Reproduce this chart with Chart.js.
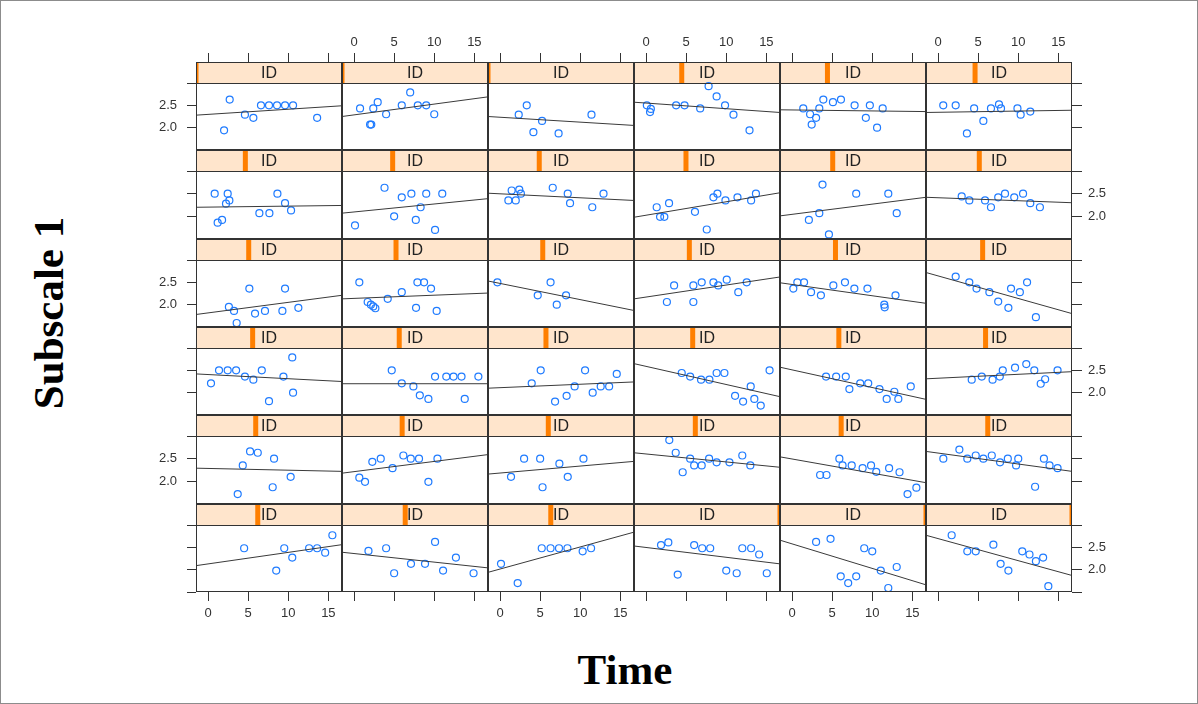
<!DOCTYPE html>
<html>
<head>
<meta charset="utf-8">
<script src="https://cdn.jsdelivr.net/npm/chart.js@4.4.1/dist/chart.umd.min.js"></script>
<style>
  html,body{margin:0;padding:0;background:#fff;}
  #page{position:relative;width:1198px;height:704px;overflow:hidden;background:#fff;}
  #frame{position:absolute;left:0;top:0;width:1196px;height:702px;border:1px solid #8c8c8c;pointer-events:none;z-index:5;}
  #page canvas{position:absolute;}
  .axtitle{position:absolute;font-family:"Liberation Serif","Times New Roman",serif;font-weight:bold;font-size:43px;color:#000;white-space:nowrap;}
  #ylab{left:48px;top:313px;transform:translate(-50%,-50%) rotate(-90deg);}
  #xlab{left:625px;top:669px;transform:translate(-50%,-50%);}
</style>
</head>
<body>
<div id="page">
  <div id="frame"></div>
  <div id="ylab" class="axtitle">Subscale 1</div>
  <div id="xlab" class="axtitle">Time</div>
</div>
<script>
// ---------------- data (Time, Subscale 1) per panel, rows top to bottom ----------------
const panel_1_1 = [[2.0,1.94],[2.7,2.63],[4.6,2.29],[5.65,2.22],[6.6,2.5],[7.6,2.5],[8.6,2.5],[9.6,2.5],[10.6,2.5],[13.6,2.22]];
const panel_1_2 = [[0.75,2.43],[2.0,2.07],[2.15,2.07],[2.4,2.43],[2.95,2.57],[4.0,2.30],[5.95,2.5],[7.0,2.79],[7.95,2.5],[9.0,2.5],[10.0,2.30]];
const panel_1_3 = [[2.33,2.29],[3.33,2.5],[4.16,1.90],[5.24,2.15],[7.3,1.87],[11.4,2.29]];
const panel_1_4 = [[0.1,2.5],[0.6,2.42],[0.5,2.35],[3.75,2.5],[4.8,2.5],[6.75,2.43],[7.8,2.93],[8.8,2.70],[9.85,2.5],[10.9,2.29],[12.9,1.94]];
const panel_1_5 = [[1.4,2.43],[2.25,2.30],[2.45,2.07],[3.0,2.22],[3.4,2.43],[3.9,2.63],[5.1,2.57],[6.1,2.63],[7.8,2.5],[9.2,2.22],[9.7,2.5],[10.6,2.0],[11.3,2.43]];
const panel_1_6 = [[0.65,2.5],[2.2,2.5],[3.6,1.87],[4.5,2.43],[5.65,2.15],[6.6,2.43],[7.6,2.52],[7.85,2.43],[9.9,2.43],[10.3,2.29],[11.5,2.36]];

const panel_2_1 = [[0.83,2.5],[1.2,1.86],[1.75,1.92],[2.24,2.28],[2.45,2.5],[2.66,2.35],[6.4,2.07],[7.65,2.07],[8.65,2.5],[9.6,2.29],[10.35,2.13]];
const panel_2_2 = [[0.12,1.80],[3.8,2.63],[5.0,2.0],[5.95,2.42],[7.15,2.5],[7.7,1.92],[8.3,2.2],[9.0,2.5],[10.1,1.7],[11.0,2.5]];
const panel_2_3 = [[1.04,2.35],[1.45,2.57],[1.96,2.35],[2.4,2.59],[2.6,2.5],[6.57,2.63],[8.44,2.5],[8.73,2.29],[11.5,2.2],[12.9,2.5]];
const panel_2_4 = [[1.33,2.2],[1.75,1.99],[2.28,1.99],[2.87,2.29],[6.1,2.1],[7.57,1.71],[8.4,2.42],[8.9,2.5],[9.9,2.35],[11.4,2.42],[13.1,2.35],[13.7,2.5]];
const panel_2_5 = [[2.1,1.92],[3.4,2.07],[3.8,2.7],[4.6,1.6],[8.0,2.5],[12.0,2.5],[13.05,2.07]];
const panel_2_6 = [[2.95,2.44],[3.9,2.35],[5.86,2.35],[6.6,2.2],[7.5,2.42],[8.35,2.5],[9.5,2.42],[10.6,2.5],[11.5,2.29],[12.7,2.2]];

const panel_3_1 = [[2.6,1.95],[3.24,1.86],[3.57,1.59],[5.15,2.36],[5.86,1.80],[7.1,1.86],[9.27,1.86],[9.6,2.36],[11.26,1.93]];
const panel_3_2 = [[0.66,2.5],[1.7,2.06],[2.1,2.0],[2.4,1.96],[2.66,1.92],[4.2,2.13],[5.95,2.28],[7.73,1.93],[7.9,2.5],[8.73,2.5],[9.6,2.36],[10.3,1.86]];
const panel_3_3 = [[-0.33,2.5],[4.7,2.21],[6.3,2.5],[7.07,2.0],[8.23,2.21]];
const panel_3_4 = [[2.6,2.06],[3.5,2.43],[5.9,2.43],[5.9,2.06],[6.94,2.5],[8.4,2.5],[9.0,2.43],[10.06,2.56],[11.5,2.28],[12.55,2.5]];
const panel_3_5 = [[0.16,2.36],[0.66,2.5],[1.5,2.5],[2.37,2.28],[3.6,2.21],[5.15,2.43],[6.6,2.5],[7.77,2.36],[9.4,2.36],[11.5,2.0],[11.55,1.94],[12.9,2.21]];
const panel_3_6 = [[2.2,2.63],[3.9,2.5],[4.8,2.36],[6.4,2.28],[7.5,2.07],[8.77,1.93],[9.1,2.36],[10.2,2.28],[11.1,2.5],[12.2,1.72]];

const panel_4_1 = [[0.37,2.21],[1.37,2.5],[2.45,2.5],[3.5,2.5],[4.6,2.36],[5.65,2.29],[6.7,2.5],[7.6,1.81],[9.4,2.36],[10.5,2.79],[10.6,2.0]];
const panel_4_2 = [[4.7,2.5],[5.95,2.21],[7.4,2.14],[8.2,1.94],[9.27,1.86],[10.1,2.36],[11.5,2.36],[12.4,2.36],[13.4,2.36],[13.8,1.86],[15.5,2.36]];
const panel_4_3 = [[3.95,2.21],[5.07,2.5],[6.86,1.80],[8.3,1.93],[9.3,2.14],[10.6,2.5],[11.55,2.0],[12.55,2.14],[13.6,2.14],[14.55,2.42]];
const panel_4_4 = [[4.45,2.44],[5.5,2.36],[6.86,2.29],[7.9,2.29],[8.8,2.44],[9.77,2.44],[11.1,1.93],[12.1,1.80],[13.05,2.14],[13.5,1.86],[14.3,1.71],[15.4,2.5]];
const panel_4_5 = [[4.24,2.36],[5.5,2.36],[6.7,2.36],[7.15,2.08],[8.5,2.21],[9.5,2.21],[10.9,2.08],[11.8,1.86],[12.75,2.02],[13.25,1.86],[14.8,2.14]];
const panel_4_6 = [[4.2,2.29],[5.45,2.36],[6.8,2.29],[7.7,2.36],[8.07,2.5],[9.6,2.56],[11.0,2.64],[12.0,2.5],[12.8,2.2],[13.35,2.3],[14.9,2.5]];

const panel_5_1 = [[3.7,1.72],[4.33,2.35],[5.24,2.66],[6.2,2.63],[8.06,1.87],[8.23,2.5],[10.3,2.1]];
const panel_5_2 = [[0.66,2.08],[1.37,1.99],[2.28,2.43],[3.33,2.5],[4.8,2.29],[6.15,2.57],[7.07,2.5],[8.1,2.5],[9.27,1.99],[10.4,2.5]];
const panel_5_3 = [[1.37,2.1],[3.0,2.5],[5.0,2.5],[5.3,1.87],[7.4,2.39],[8.44,2.1],[10.4,2.5]];
const panel_5_4 = [[2.9,2.91],[3.7,2.63],[4.57,2.2],[5.5,2.5],[6.0,2.35],[6.94,2.35],[7.86,2.5],[8.8,2.42],[10.4,2.42],[12.0,2.57],[13.0,2.35]];
const panel_5_5 = [[3.5,2.14],[4.3,2.14],[5.9,2.5],[6.3,2.35],[7.44,2.35],[8.8,2.29],[9.85,2.35],[10.5,2.21],[12.1,2.29],[13.4,2.2],[14.4,1.72],[15.5,1.86]];
const panel_5_6 = [[0.66,2.5],[2.66,2.70],[3.65,2.5],[4.7,2.57],[5.65,2.5],[6.7,2.57],[7.73,2.42],[8.7,2.5],[9.73,2.35],[10.0,2.5],[12.1,1.88],[13.2,2.5],[13.9,2.35],[14.9,2.29]];

const panel_6_1 = [[4.5,2.48],[8.5,1.98],[9.5,2.48],[10.5,2.27],[12.6,2.48],[13.6,2.48],[14.6,2.38],[15.5,2.77]];
const panel_6_2 = [[1.8,2.42],[4.0,2.48],[5.0,1.92],[7.1,2.13],[8.85,2.13],[10.1,2.62],[11.1,1.98],[12.7,2.27],[14.9,1.92]];
const panel_6_3 = [[0.12,2.13],[2.2,1.70],[5.2,2.48],[6.3,2.48],[7.35,2.48],[8.4,2.48],[10.3,2.41],[11.35,2.48]];
const panel_6_4 = [[1.87,2.55],[2.78,2.61],[3.95,1.89],[6.0,2.55],[7.0,2.48],[8.0,2.48],[10.0,1.98],[11.3,1.92],[12.0,2.48],[13.1,2.48],[14.1,2.34],[15.05,1.92]];
const panel_6_5 = [[3.0,2.62],[4.8,2.69],[6.07,1.85],[7.0,1.70],[8.0,1.85],[9.0,2.48],[10.0,2.41],[11.06,1.98],[12.0,1.59],[13.05,2.06]];
const panel_6_6 = [[1.7,2.77],[3.65,2.41],[4.7,2.41],[6.9,2.56],[7.8,2.13],[8.77,1.98],[10.5,2.41],[11.4,2.34],[12.2,2.19],[13.1,2.27],[13.75,1.63]];

// fitted line values at the left (Time = -1.5) and right (Time = 16.7) panel edges
const fitStart_1 = [2.28,2.25,2.25,2.57,2.40,2.34];
const fitEnd_1   = [2.49,2.69,2.05,2.34,2.36,2.39];
const fitStart_2 = [2.20,2.07,2.51,1.98,2.01,2.42];
const fitEnd_2   = [2.24,2.39,2.35,2.52,2.42,2.30];
const fitStart_3 = [1.78,2.13,2.53,2.13,2.49,2.72];
const fitEnd_3   = [2.21,2.26,1.87,2.62,2.03,1.80];
const fitStart_4 = [2.42,2.20,2.10,2.65,2.57,2.31];
const fitEnd_4   = [2.25,2.20,2.24,1.91,1.85,2.47];
const fitStart_5 = [2.29,2.18,2.16,2.63,2.54,2.66];
const fitEnd_5   = [2.22,2.59,2.44,2.31,1.97,2.22];
const fitStart_6 = [2.09,2.39,1.94,2.53,2.66,2.77];
const fitEnd_6   = [2.56,2.04,2.84,2.13,1.66,1.87];

// strip shingle indicator (relative level of ID, 0..1)
const idLevel_1 = [0,0,0,0.327,0.325,0.336];
const idLevel_2 = [0.338,0.347,0.351,0.356,0.361,0.365];
const idLevel_3 = [0.361,0.370,0.375,0.379,0.380,0.388];
const idLevel_4 = [0.388,0.392,0.397,0.402,0.403,0.408];
const idLevel_5 = [0.409,0.412,0.413,0.420,0.419,0.423];
const idLevel_6 = [0.423,0.433,0.430,1,1,1];

const stripLabel = 'ID';
const xTicks = [0,5,10,15];
const yTicks = [1.5,2.0,2.5,3.0];
const yTickLabels = [2.0,2.5];
const X_MIN = -1.5, X_MAX = 16.7, Y_MIN = 1.5, Y_TOP = 3.0;

// ---------------- assemble ----------------
const panels = [
  [panel_1_1,panel_1_2,panel_1_3,panel_1_4,panel_1_5,panel_1_6],
  [panel_2_1,panel_2_2,panel_2_3,panel_2_4,panel_2_5,panel_2_6],
  [panel_3_1,panel_3_2,panel_3_3,panel_3_4,panel_3_5,panel_3_6],
  [panel_4_1,panel_4_2,panel_4_3,panel_4_4,panel_4_5,panel_4_6],
  [panel_5_1,panel_5_2,panel_5_3,panel_5_4,panel_5_5,panel_5_6],
  [panel_6_1,panel_6_2,panel_6_3,panel_6_4,panel_6_5,panel_6_6]
];
const fitStarts = [fitStart_1,fitStart_2,fitStart_3,fitStart_4,fitStart_5,fitStart_6];
const fitEnds = [fitEnd_1,fitEnd_2,fitEnd_3,fitEnd_4,fitEnd_5,fitEnd_6];
const idLevels = [idLevel_1,idLevel_2,idLevel_3,idLevel_4,idLevel_5,idLevel_6];

const LEFT = 196, COLW = 146, TOP = 62, ROWH = 88.33, STRIP = 21;
const ML = 70, MR = 60, MT = 40, MB = 40;
const FONT = '"Liberation Sans", Arial, Helvetica, sans-serif';
const rowTop = r => Math.round(TOP + r * ROWH);

const stripPlugin = {
  id: 'lattice',
  beforeDatasetsDraw(chart, args, opts) {
    const {ctx, chartArea: a} = chart;
    const yB = chart.scales.y.getPixelForValue(Y_TOP);
    ctx.save();
    ctx.fillStyle = '#FFE5CC';
    ctx.fillRect(a.left, a.top, a.right - a.left, yB - a.top);
    const cx = a.left + opts.level * (a.right - a.left);
    const l = Math.max(a.left, cx - 2.5), rr = Math.min(a.right, cx + 2.5);
    ctx.fillStyle = '#FF7F00';
    ctx.fillRect(l, a.top, rr - l, yB - a.top);
    ctx.fillStyle = '#222';
    ctx.font = '16px ' + FONT;
    ctx.textAlign = 'center';
    ctx.textBaseline = 'middle';
    ctx.fillText(stripLabel, (a.left + a.right) / 2, (a.top + yB) / 2 + 1);
    ctx.restore();
  },
  afterDraw(chart) {
    const {ctx, chartArea: a} = chart;
    const yB = Math.round(chart.scales.y.getPixelForValue(Y_TOP));
    ctx.save();
    ctx.strokeStyle = '#333';
    ctx.lineWidth = 1;
    ctx.strokeRect(a.left + 0.5, a.top + 0.5, a.right - a.left - 1, a.bottom - a.top - 1);
    ctx.beginPath();
    ctx.moveTo(a.left, yB + 0.5);
    ctx.lineTo(a.right, yB + 0.5);
    ctx.stroke();
    ctx.restore();
  }
};

function zeroPad(s) { s.paddingLeft = s.paddingRight = s.paddingTop = s.paddingBottom = 0; }

const page = document.getElementById('page');
for (let r = 0; r < 6; r++) {
  for (let c = 0; c < 6; c++) {
    const h = rowTop(r + 1) - rowTop(r);
    const plotH = h - STRIP;
    const yMax = Y_TOP + (Y_TOP - Y_MIN) * STRIP / plotH;
    const pl = c === 0 ? ML : 0, pr = c === 5 ? MR : 0, pt = r === 0 ? MT : 0, pb = r === 5 ? MB : 0;
    const cv = document.createElement('canvas');
    cv.width = COLW + pl + pr; cv.height = h + pt + pb;
    cv.style.left = (LEFT + c * COLW - pl) + 'px';
    cv.style.top = (rowTop(r) - pt) + 'px';
    cv.style.width = cv.width + 'px'; cv.style.height = cv.height + 'px';
    page.appendChild(cv);

    const showB = r === 5, showT = r === 0, showL = c === 0, showR = c === 5;
    const labB = showB && c % 2 === 0, labT = showT && c % 2 === 1;
    const labL = showL && r % 2 === 0, labR = showR && r % 2 === 1;
    const tickFont = {family: FONT, size: 13};
    const xScale = (pos, show, lab, size, tl, pad) => ({
      type: 'linear', position: pos, display: show, min: X_MIN, max: X_MAX,
      afterBuildTicks: s => { s.ticks = xTicks.map(v => ({value: v})); },
      afterFit: s => { if (show) s.height = size; zeroPad(s); },
      grid: {drawOnChartArea: false, drawTicks: true, tickLength: tl, color: '#333', lineWidth: 1},
      border: {display: false},
      ticks: {autoSkip: false, maxRotation: 0, padding: pad, color: '#333', font: tickFont,
              callback: v => lab ? String(v) : ''}
    });
    const yScale = (pos, show, lab, size, tl, pad) => ({
      type: 'linear', position: pos, display: show, min: Y_MIN, max: yMax,
      afterBuildTicks: s => { s.ticks = yTicks.map(v => ({value: v})); },
      afterFit: s => { if (show) s.width = size; zeroPad(s); },
      grid: {drawOnChartArea: false, drawTicks: true, tickLength: tl, color: '#333', lineWidth: 1},
      border: {display: false},
      ticks: {autoSkip: false, padding: pad, color: '#333', font: tickFont,
              callback: v => (lab && yTickLabels.includes(v)) ? v.toFixed(1) : ''}
    });

    new Chart(cv, {
      data: {
        datasets: [
          {type: 'line', data: [{x: X_MIN, y: fitStarts[r][c]}, {x: X_MAX, y: fitEnds[r][c]}],
           borderColor: '#3a3a3a', borderWidth: 1, pointRadius: 0, fill: false, tension: 0,
           xAxisID: 'x', yAxisID: 'y'},
          {type: 'scatter', data: panels[r][c].map(p => ({x: p[0], y: p[1]})),
           pointStyle: 'circle', pointRadius: 3.5, borderWidth: 1.2, borderColor: '#1f7bff',
           backgroundColor: 'rgba(0,0,0,0)', xAxisID: 'x', yAxisID: 'y'}
        ]
      },
      options: {
        responsive: false, animation: false, devicePixelRatio: 1,
        layout: {padding: 0, autoPadding: false},
        plugins: {legend: {display: false}, tooltip: {enabled: false}, lattice: {level: idLevels[r][c]}},
        events: [],
        scales: {
          x: xScale('bottom', showB, labB, MB, 9, 5),
          xTop: xScale('top', showT, labT, MT, 9, 3),
          y: yScale('left', showL, labL, ML, 9, 10),
          yRight: yScale('right', showR, labR, MR, 10, 6)
        }
      },
      plugins: [stripPlugin]
    });
  }
}
</script>
</body>
</html>
